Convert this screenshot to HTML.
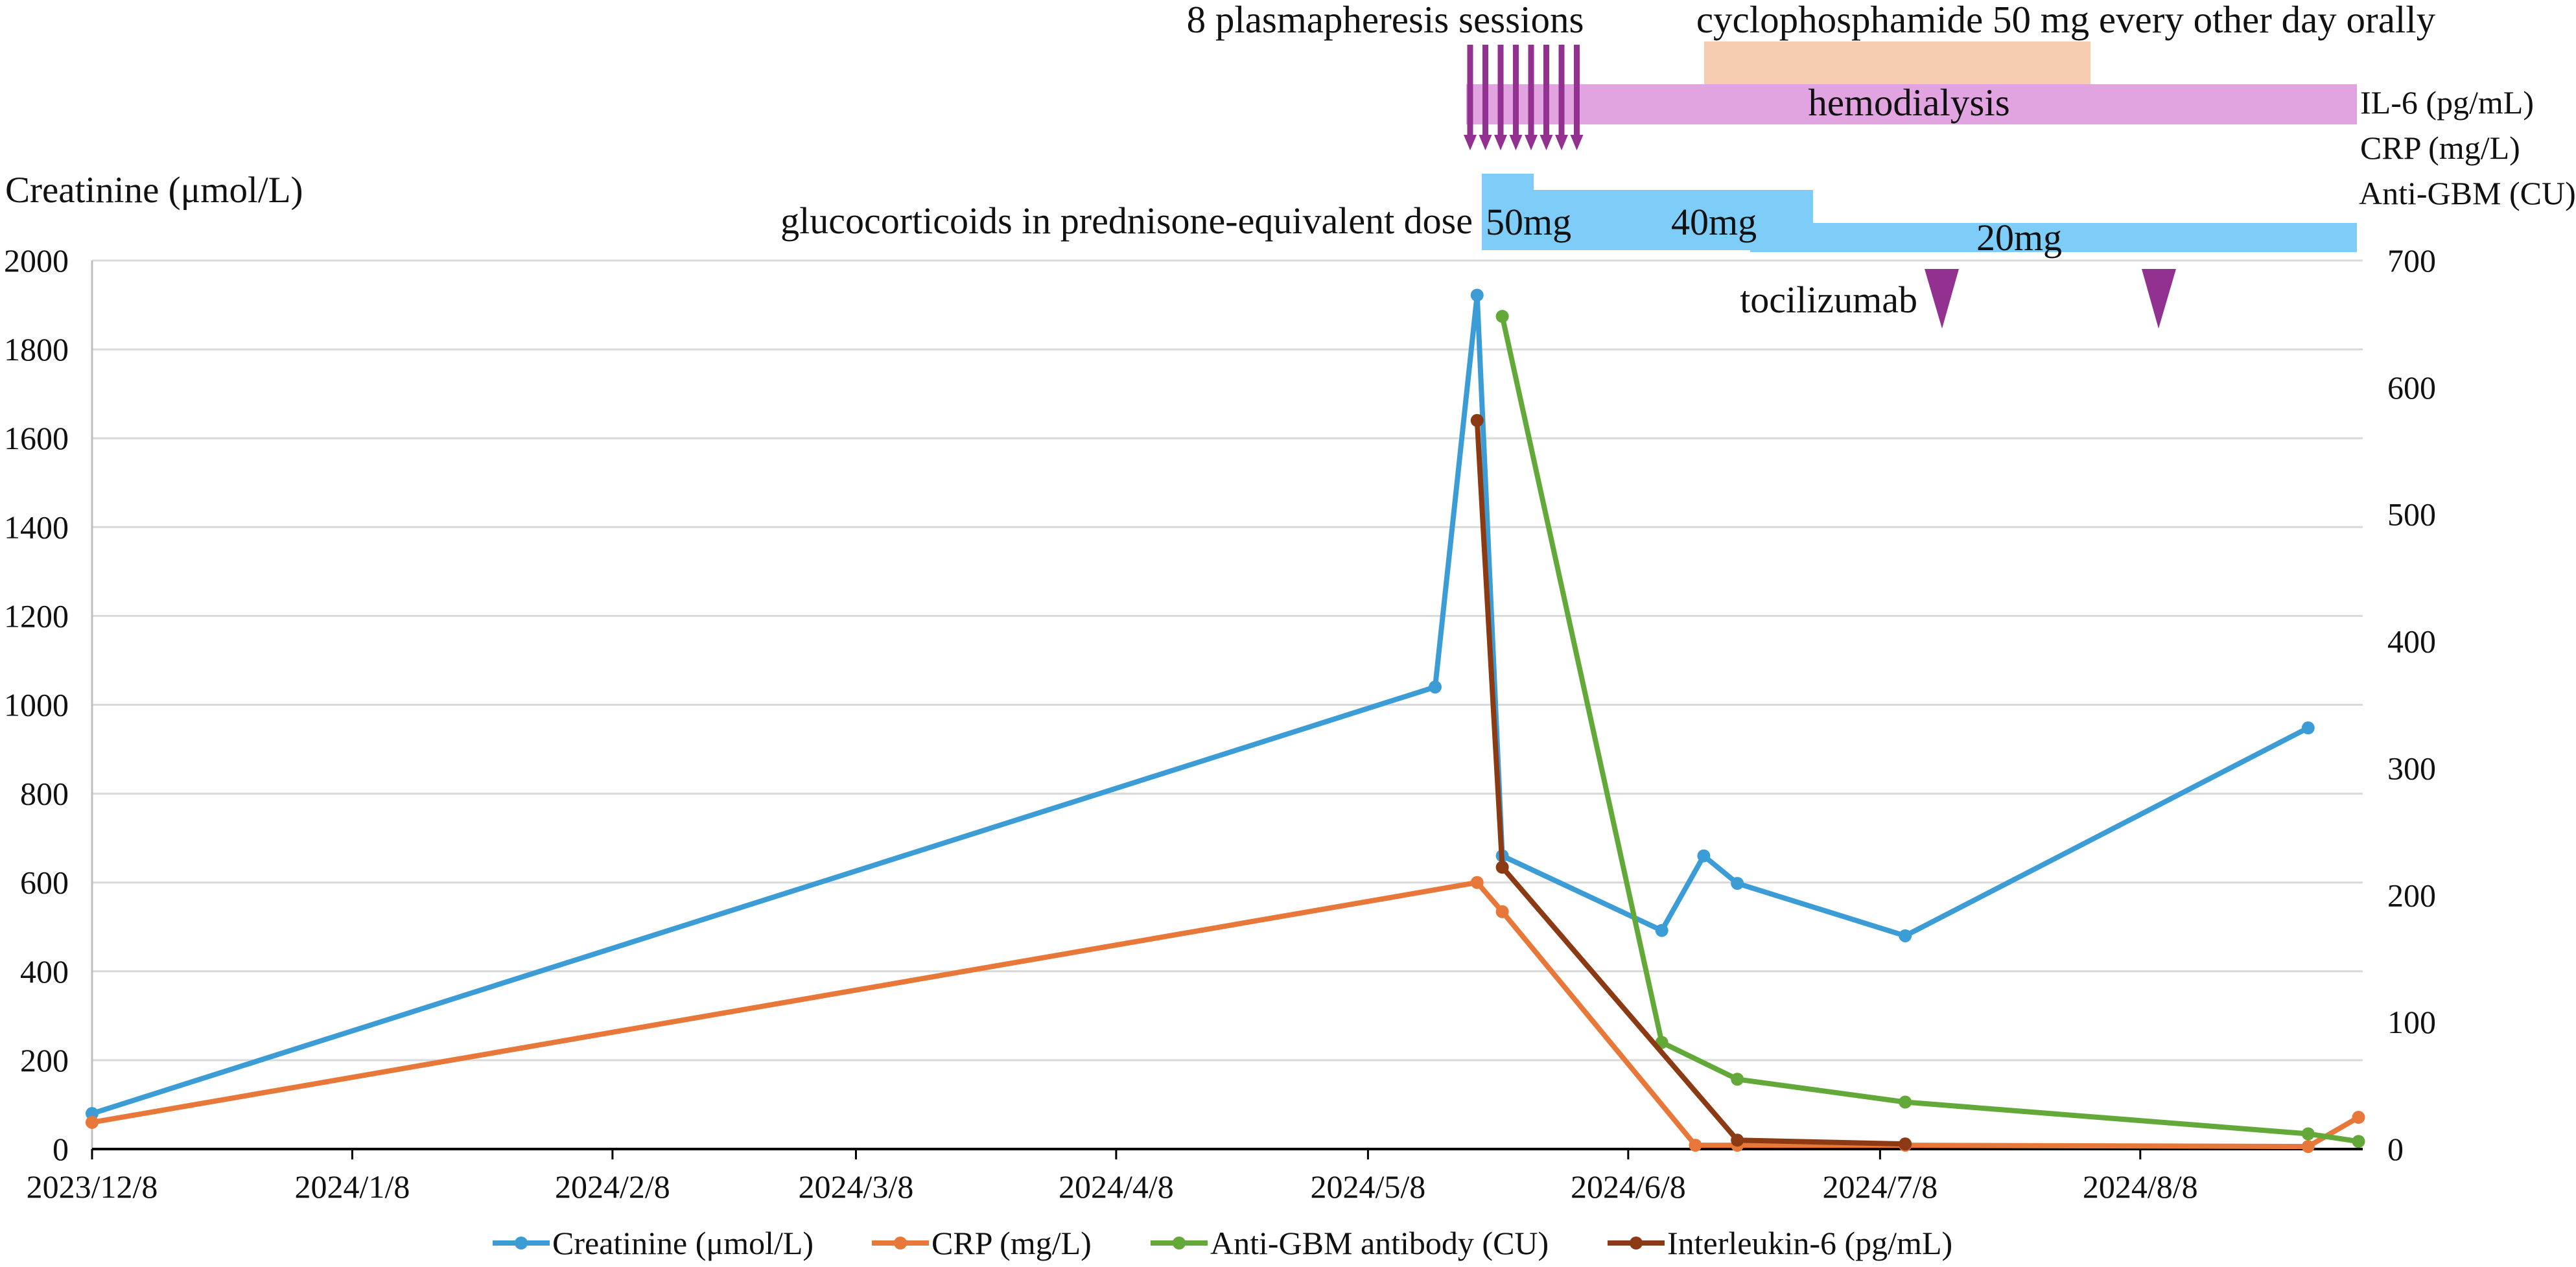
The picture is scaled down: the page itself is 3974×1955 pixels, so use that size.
<!DOCTYPE html>
<html><head><meta charset="utf-8"><style>
html,body{margin:0;padding:0;background:#fff}
svg{display:block}
text{font-family:"Liberation Serif",serif;fill:#111}
</style></head><body>
<svg id="chart" width="3974" height="1955" viewBox="0 0 3974 1955" xmlns="http://www.w3.org/2000/svg" font-family="Liberation Serif, serif">
<g id="grid"></g>
<g id="axes" font-family="Liberation Serif, serif"></g>
<g id="annot">
  <text x="2137" y="50" font-size="59" text-anchor="middle">8 plasmapheresis sessions</text>
  <text x="3187" y="50" font-size="59" text-anchor="middle">cyclophosphamide 50 mg every other day orally</text>
  <rect x="2629" y="64" width="596" height="67" fill="#f6ccb1"/>
  <rect x="2262" y="130" width="1374" height="62" fill="#e2a4e0"/>
  <text x="2945" y="178" font-size="59" text-anchor="middle">hemodialysis</text>
  <g id="arrows"></g>
  <rect x="2286" y="268" width="80" height="118" fill="#7dcdf8"/>
  <rect x="2364" y="293" width="433" height="93" fill="#7dcdf8"/>
  <rect x="2700" y="344" width="936" height="45" fill="#7dcdf8"/>
  <text x="2272" y="360" font-size="58" text-anchor="end">glucocorticoids in prednisone-equivalent dose</text>
  <text x="2292" y="362" font-size="58">50mg</text>
  <text x="2578" y="362" font-size="58">40mg</text>
  <text x="3115" y="386" font-size="58" text-anchor="middle">20mg</text>
  <text x="2958" y="482" font-size="58" text-anchor="end">tocilizumab</text>
  <polygon points="2969,415 3022,415 2996,507" fill="#92318f"/>
  <polygon points="3304,415 3357,415 3330,507" fill="#92318f"/>
  <text x="3641" y="175" font-size="50">IL-6 (pg/mL)</text>
  <text x="3641" y="245" font-size="50">CRP (mg/L)</text>
  <text x="3639" y="315" font-size="50">Anti-GBM (CU)</text>
  <text x="8" y="312" font-size="57">Creatinine (μmol/L)</text>
</g>
<g id="series"></g>
<g id="legend" font-family="Liberation Serif, serif"></g>
</svg>
<script>
const xTickLabels=["2023/12/8","2024/1/8","2024/2/8","2024/3/8","2024/4/8","2024/5/8","2024/6/8","2024/7/8","2024/8/8"];
const xTickDays=[0,31,62,91,122,152,183,213,244];
const leftTicks=[0,200,400,600,800,1000,1200,1400,1600,1800,2000];
const rightTicks=[0,100,200,300,400,500,600,700];
const creatDays=[0,160,165,168,187,192,196,216,264];
const creatVals=[80,1040,1922,660,492,660,598,480,948];
const crpDays=[0,165,168,191,196,216,264,270];
const crpVals=[21,210,187,3,3,3,2,25];
const gbmDays=[168,187,196,216,264,270];
const gbmVals=[656,84,55,37,12,6];
const il6Days=[165,168,196,216];
const il6Vals=[574,222,7,4];
const NS="http://www.w3.org/2000/svg";
const X0=142,PX_DAY=12.95,XR=3645,YT=402,YB=1773;
const FF='Liberation Serif, serif';
const x=d=>X0+d*PX_DAY;
const yL=v=>YB-(v/2000)*(YB-YT);
const yR=v=>YB-(v/700)*(YB-YT);
function mk(tag,attrs,parent){const e=document.createElementNS(NS,tag);for(const k in attrs)e.setAttribute(k,attrs[k]);if(tag==='text'){e.setAttribute('font-family',FF);e.style.fontFamily='"Liberation Serif", serif';}parent.appendChild(e);return e;}
const grid=document.getElementById('grid'),axes=document.getElementById('axes'),ser=document.getElementById('series'),leg=document.getElementById('legend'),arr=document.getElementById('arrows');
leftTicks.forEach(v=>{
  if(v>0){const g=mk('line',{x1:X0,x2:XR,y1:yL(v),y2:yL(v),stroke:'#d9d9d9','stroke-width':3},grid);
  
  }
  const t=mk('text',{x:106,y:yL(v)+17,'font-size':50,'text-anchor':'end'},axes);t.textContent=v;
  
  
});
rightTicks.forEach(v=>{
  const t=mk('text',{x:3683,y:yR(v)+17,'font-size':50},axes);t.textContent=v;
  
  
});
const va=mk('line',{x1:X0,x2:X0,y1:YT,y2:YB,stroke:'#bfbfbf','stroke-width':3},axes);


const ha=mk('line',{x1:X0,x2:XR,y1:YB,y2:YB,stroke:'#000','stroke-width':4},axes);


xTickDays.forEach((d,i)=>{
  const tk=mk('line',{x1:x(d),x2:x(d),y1:YB,y2:YB+16,stroke:'#000','stroke-width':3},axes);
  
  
  const t=mk('text',{x:x(d),y:1848,'font-size':50,'text-anchor':'middle'},axes);t.textContent=xTickLabels[i];
  
  
});
for(let i=0;i<8;i++){
  const ax=2268+i*23.5;
  const l=mk('line',{x1:ax,x2:ax,y1:69,y2:212,stroke:'#92318f','stroke-width':9},arr);
  
  
  const p=mk('polygon',{points:`${ax-10},208 ${ax+10},208 ${ax},232`,fill:'#92318f'},arr);
  
  
}
function series(days,vals,yf,color,name){
  const pts=days.map((d,i)=>`${x(d)},${yf(vals[i])}`).join(' ');
  const pl=mk('polyline',{points:pts,fill:'none',stroke:color,'stroke-width':8,'stroke-linejoin':'round'},ser);
  
  
  days.forEach((d,i)=>{const c=mk('circle',{cx:x(d),cy:yf(vals[i]),r:10,fill:color},ser);
    
    });
}
series(creatDays,creatVals,yL,'#3c9dd6','creatinine');
series(crpDays,crpVals,yR,'#e8783a','crp');
series(gbmDays,gbmVals,yR,'#63a93a','anti-gbm');
series(il6Days,il6Vals,yR,'#8b3a14','il6');
const legItems=[["Creatinine (μmol/L)",'#3c9dd6',760],["CRP (mg/L)",'#e8783a',1345],["Anti-GBM antibody (CU)",'#63a93a',1775],["Interleukin-6 (pg/mL)",'#8b3a14',2480]];
legItems.forEach(it=>{
  const l=mk('line',{x1:it[2],x2:it[2]+88,y1:1918,y2:1918,stroke:it[1],'stroke-width':8},leg);
  
  
  const c=mk('circle',{cx:it[2]+44,cy:1918,r:10,fill:it[1]},leg);
  
  
  const t=mk('text',{x:it[2]+92,y:1935,'font-size':50},leg);t.textContent=it[0];
  
  
});
</script>
</body></html>
